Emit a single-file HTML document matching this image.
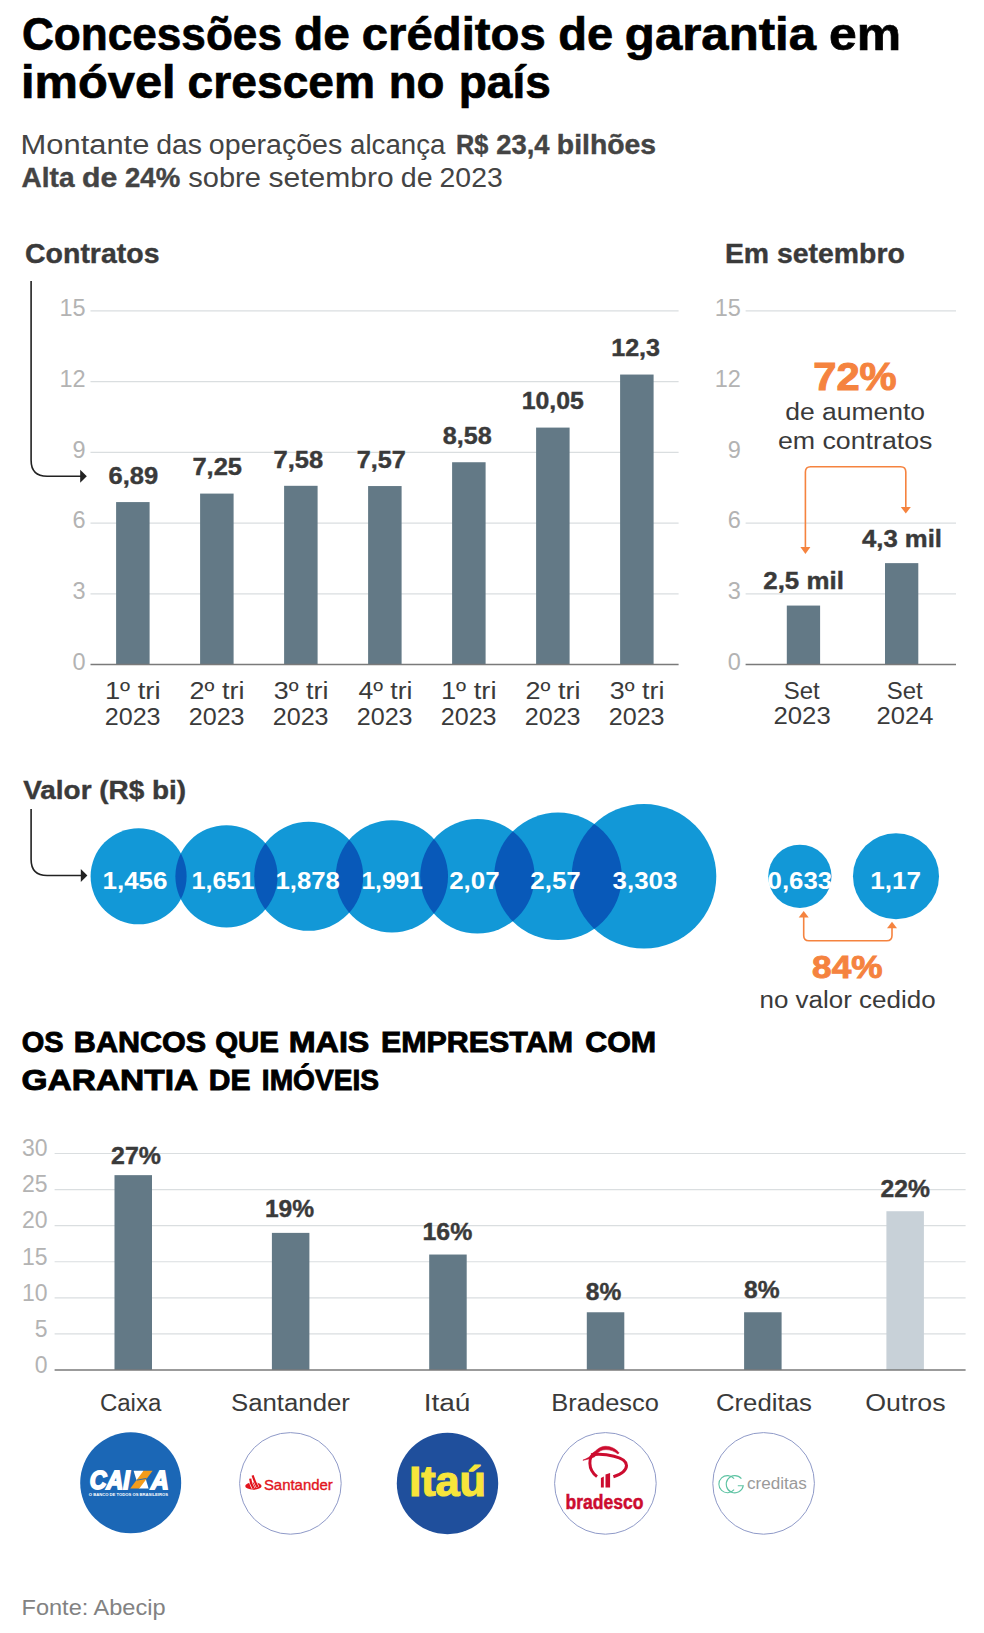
<!DOCTYPE html>
<html><head><meta charset="utf-8"><style>
html,body{margin:0;padding:0;background:#fff;}
svg{display:block;font-family:"Liberation Sans", sans-serif;}
</style></head><body>
<svg width="984" height="1633" viewBox="0 0 984 1633">
<rect width="984" height="1633" fill="#fff"/>
<defs><clipPath id="cp0"><circle cx="138.6" cy="876.3" r="48.00"/></clipPath><clipPath id="cp1"><circle cx="226.5" cy="876.3" r="51.11"/></clipPath><clipPath id="cp2"><circle cx="308.7" cy="876.3" r="54.51"/></clipPath><clipPath id="cp3"><circle cx="391.9" cy="876.3" r="56.13"/></clipPath><clipPath id="cp4"><circle cx="477.4" cy="876.3" r="57.23"/></clipPath><clipPath id="cp5"><circle cx="558" cy="876.3" r="63.77"/></clipPath><clipPath id="cp6"><circle cx="644" cy="876.3" r="72.30"/></clipPath></defs>
<text x="21.88" y="49.80" font-size="46.5" fill="#000" font-weight="bold" text-anchor="start" textLength="260.11" lengthAdjust="spacingAndGlyphs" stroke="#000" stroke-width="0.7">Concessões</text>
<text x="294.04" y="49.80" font-size="46.5" fill="#000" font-weight="bold" text-anchor="start" textLength="55.85" lengthAdjust="spacingAndGlyphs" stroke="#000" stroke-width="0.7">de</text>
<text x="361.76" y="49.80" font-size="46.5" fill="#000" font-weight="bold" text-anchor="start" textLength="183.99" lengthAdjust="spacingAndGlyphs" stroke="#000" stroke-width="0.7">créditos</text>
<text x="558.17" y="49.80" font-size="46.5" fill="#000" font-weight="bold" text-anchor="start" textLength="54.89" lengthAdjust="spacingAndGlyphs" stroke="#000" stroke-width="0.7">de</text>
<text x="624.88" y="49.80" font-size="46.5" fill="#000" font-weight="bold" text-anchor="start" textLength="191.19" lengthAdjust="spacingAndGlyphs" stroke="#000" stroke-width="0.7">garantia</text>
<text x="829.05" y="49.80" font-size="46.5" fill="#000" font-weight="bold" text-anchor="start" textLength="72.10" lengthAdjust="spacingAndGlyphs" stroke="#000" stroke-width="0.7">em</text>
<text x="21.03" y="97.60" font-size="46.5" fill="#000" font-weight="bold" text-anchor="start" textLength="154.63" lengthAdjust="spacingAndGlyphs" stroke="#000" stroke-width="0.7">imóvel</text>
<text x="187.60" y="97.60" font-size="46.5" fill="#000" font-weight="bold" text-anchor="start" textLength="187.48" lengthAdjust="spacingAndGlyphs" stroke="#000" stroke-width="0.7">crescem</text>
<text x="388.68" y="97.60" font-size="46.5" fill="#000" font-weight="bold" text-anchor="start" textLength="55.74" lengthAdjust="spacingAndGlyphs" stroke="#000" stroke-width="0.7">no</text>
<text x="458.76" y="97.60" font-size="46.5" fill="#000" font-weight="bold" text-anchor="start" textLength="91.97" lengthAdjust="spacingAndGlyphs" stroke="#000" stroke-width="0.7">país</text>
<text x="20.63" y="153.50" font-size="27" fill="#444" font-weight="normal" text-anchor="start" textLength="128.69" lengthAdjust="spacingAndGlyphs">Montante</text>
<text x="156.16" y="153.50" font-size="27" fill="#444" font-weight="normal" text-anchor="start" textLength="45.90" lengthAdjust="spacingAndGlyphs">das</text>
<text x="208.86" y="153.50" font-size="27" fill="#444" font-weight="normal" text-anchor="start" textLength="133.45" lengthAdjust="spacingAndGlyphs">operações</text>
<text x="349.99" y="153.50" font-size="27" fill="#444" font-weight="normal" text-anchor="start" textLength="95.46" lengthAdjust="spacingAndGlyphs">alcança</text>
<text x="455.96" y="153.50" font-size="27" fill="#444" font-weight="bold" text-anchor="start" textLength="32.28" lengthAdjust="spacingAndGlyphs" stroke="#444" stroke-width="0.4">R$</text>
<text x="496.24" y="153.50" font-size="27" fill="#444" font-weight="bold" text-anchor="start" textLength="53.23" lengthAdjust="spacingAndGlyphs" stroke="#444" stroke-width="0.4">23,4</text>
<text x="556.86" y="153.50" font-size="27" fill="#444" font-weight="bold" text-anchor="start" textLength="99.19" lengthAdjust="spacingAndGlyphs" stroke="#444" stroke-width="0.4">bilhões</text>
<text x="21.60" y="187.00" font-size="27" fill="#444" font-weight="bold" text-anchor="start" textLength="52.90" lengthAdjust="spacingAndGlyphs" stroke="#444" stroke-width="0.4">Alta</text>
<text x="82.09" y="187.00" font-size="27" fill="#444" font-weight="bold" text-anchor="start" textLength="35.28" lengthAdjust="spacingAndGlyphs" stroke="#444" stroke-width="0.4">de</text>
<text x="125.04" y="187.00" font-size="27" fill="#444" font-weight="bold" text-anchor="start" textLength="55.09" lengthAdjust="spacingAndGlyphs" stroke="#444" stroke-width="0.4">24%</text>
<text x="188.23" y="187.00" font-size="27" fill="#444" font-weight="normal" text-anchor="start" textLength="72.68" lengthAdjust="spacingAndGlyphs">sobre</text>
<text x="268.50" y="187.00" font-size="27" fill="#444" font-weight="normal" text-anchor="start" textLength="125.21" lengthAdjust="spacingAndGlyphs">setembro</text>
<text x="400.85" y="187.00" font-size="27" fill="#444" font-weight="normal" text-anchor="start" textLength="31.86" lengthAdjust="spacingAndGlyphs">de</text>
<text x="439.58" y="187.00" font-size="27" fill="#444" font-weight="normal" text-anchor="start" textLength="63.15" lengthAdjust="spacingAndGlyphs">2023</text>
<text x="25.06" y="262.70" font-size="28" fill="#3a3a3a" font-weight="bold" text-anchor="start" textLength="134.44" lengthAdjust="spacingAndGlyphs" stroke="#3a3a3a" stroke-width="0.4">Contratos</text>
<text x="724.95" y="262.70" font-size="28" fill="#3a3a3a" font-weight="bold" text-anchor="start" textLength="179.85" lengthAdjust="spacingAndGlyphs" stroke="#3a3a3a" stroke-width="0.4">Em setembro</text>
<line x1="90.50" y1="310.90" x2="678.60" y2="310.90" stroke="#dadee0" stroke-width="1.2"/>
<text x="85.60" y="316.10" font-size="23.5" fill="#b3b3b3" font-weight="normal" text-anchor="end">15</text>
<line x1="90.50" y1="381.62" x2="678.60" y2="381.62" stroke="#dadee0" stroke-width="1.2"/>
<text x="85.60" y="386.82" font-size="23.5" fill="#b3b3b3" font-weight="normal" text-anchor="end">12</text>
<line x1="90.50" y1="452.34" x2="678.60" y2="452.34" stroke="#dadee0" stroke-width="1.2"/>
<text x="85.60" y="457.54" font-size="23.5" fill="#b3b3b3" font-weight="normal" text-anchor="end">9</text>
<line x1="90.50" y1="523.06" x2="678.60" y2="523.06" stroke="#dadee0" stroke-width="1.2"/>
<text x="85.60" y="528.26" font-size="23.5" fill="#b3b3b3" font-weight="normal" text-anchor="end">6</text>
<line x1="90.50" y1="593.78" x2="678.60" y2="593.78" stroke="#dadee0" stroke-width="1.2"/>
<text x="85.60" y="598.98" font-size="23.5" fill="#b3b3b3" font-weight="normal" text-anchor="end">3</text>
<text x="85.60" y="669.70" font-size="23.5" fill="#b3b3b3" font-weight="normal" text-anchor="end">0</text>
<rect x="116.10" y="502.08" width="33.50" height="162.42" fill="#637986"/>
<text x="108.51" y="483.88" font-size="23.3" fill="#3a3a3a" font-weight="bold" text-anchor="start" textLength="49.62" lengthAdjust="spacingAndGlyphs" stroke="#3a3a3a" stroke-width="0.4">6,89</text>
<text x="104.90" y="699.40" font-size="23.5" fill="#3a3a3a" font-weight="normal" text-anchor="start" textLength="55.59" lengthAdjust="spacingAndGlyphs">1º tri</text>
<text x="104.74" y="724.50" font-size="23.5" fill="#3a3a3a" font-weight="normal" text-anchor="start" textLength="55.85" lengthAdjust="spacingAndGlyphs">2023</text>
<rect x="200.10" y="493.59" width="33.50" height="170.91" fill="#637986"/>
<text x="192.48" y="475.39" font-size="23.3" fill="#3a3a3a" font-weight="bold" text-anchor="start" textLength="49.49" lengthAdjust="spacingAndGlyphs" stroke="#3a3a3a" stroke-width="0.4">7,25</text>
<text x="189.60" y="699.40" font-size="23.5" fill="#3a3a3a" font-weight="normal" text-anchor="start" textLength="54.87" lengthAdjust="spacingAndGlyphs">2º tri</text>
<text x="188.74" y="724.50" font-size="23.5" fill="#3a3a3a" font-weight="normal" text-anchor="start" textLength="55.85" lengthAdjust="spacingAndGlyphs">2023</text>
<rect x="284.10" y="485.81" width="33.50" height="178.69" fill="#637986"/>
<text x="273.58" y="467.61" font-size="23.3" fill="#3a3a3a" font-weight="bold" text-anchor="start" textLength="49.62" lengthAdjust="spacingAndGlyphs" stroke="#3a3a3a" stroke-width="0.4">7,58</text>
<text x="273.88" y="699.40" font-size="23.5" fill="#3a3a3a" font-weight="normal" text-anchor="start" textLength="54.58" lengthAdjust="spacingAndGlyphs">3º tri</text>
<text x="272.74" y="724.50" font-size="23.5" fill="#3a3a3a" font-weight="normal" text-anchor="start" textLength="55.85" lengthAdjust="spacingAndGlyphs">2023</text>
<rect x="368.10" y="486.05" width="33.50" height="178.45" fill="#637986"/>
<text x="356.79" y="467.85" font-size="23.3" fill="#3a3a3a" font-weight="bold" text-anchor="start" textLength="49.05" lengthAdjust="spacingAndGlyphs" stroke="#3a3a3a" stroke-width="0.4">7,57</text>
<text x="358.42" y="699.40" font-size="23.5" fill="#3a3a3a" font-weight="normal" text-anchor="start" textLength="54.02" lengthAdjust="spacingAndGlyphs">4º tri</text>
<text x="356.74" y="724.50" font-size="23.5" fill="#3a3a3a" font-weight="normal" text-anchor="start" textLength="55.85" lengthAdjust="spacingAndGlyphs">2023</text>
<rect x="452.10" y="462.24" width="33.50" height="202.26" fill="#637986"/>
<text x="442.85" y="444.04" font-size="23.3" fill="#3a3a3a" font-weight="bold" text-anchor="start" textLength="48.94" lengthAdjust="spacingAndGlyphs" stroke="#3a3a3a" stroke-width="0.4">8,58</text>
<text x="440.90" y="699.40" font-size="23.5" fill="#3a3a3a" font-weight="normal" text-anchor="start" textLength="55.59" lengthAdjust="spacingAndGlyphs">1º tri</text>
<text x="440.74" y="724.50" font-size="23.5" fill="#3a3a3a" font-weight="normal" text-anchor="start" textLength="55.85" lengthAdjust="spacingAndGlyphs">2023</text>
<rect x="536.10" y="427.59" width="33.50" height="236.91" fill="#637986"/>
<text x="521.71" y="409.39" font-size="23.3" fill="#3a3a3a" font-weight="bold" text-anchor="start" textLength="62.07" lengthAdjust="spacingAndGlyphs" stroke="#3a3a3a" stroke-width="0.4">10,05</text>
<text x="525.60" y="699.40" font-size="23.5" fill="#3a3a3a" font-weight="normal" text-anchor="start" textLength="54.87" lengthAdjust="spacingAndGlyphs">2º tri</text>
<text x="524.74" y="724.50" font-size="23.5" fill="#3a3a3a" font-weight="normal" text-anchor="start" textLength="55.85" lengthAdjust="spacingAndGlyphs">2023</text>
<rect x="620.10" y="374.55" width="33.50" height="289.95" fill="#637986"/>
<text x="611.20" y="356.35" font-size="23.3" fill="#3a3a3a" font-weight="bold" text-anchor="start" textLength="48.82" lengthAdjust="spacingAndGlyphs" stroke="#3a3a3a" stroke-width="0.4">12,3</text>
<text x="609.88" y="699.40" font-size="23.5" fill="#3a3a3a" font-weight="normal" text-anchor="start" textLength="54.58" lengthAdjust="spacingAndGlyphs">3º tri</text>
<text x="608.74" y="724.50" font-size="23.5" fill="#3a3a3a" font-weight="normal" text-anchor="start" textLength="55.85" lengthAdjust="spacingAndGlyphs">2023</text>
<line x1="90.50" y1="664.50" x2="678.60" y2="664.50" stroke="#7a7a7a" stroke-width="1.6"/>
<line x1="745.60" y1="310.90" x2="956.00" y2="310.90" stroke="#dadee0" stroke-width="1.2"/>
<text x="740.80" y="316.10" font-size="23.5" fill="#b3b3b3" font-weight="normal" text-anchor="end">15</text>
<text x="740.80" y="386.82" font-size="23.5" fill="#b3b3b3" font-weight="normal" text-anchor="end">12</text>
<text x="740.80" y="457.54" font-size="23.5" fill="#b3b3b3" font-weight="normal" text-anchor="end">9</text>
<line x1="745.60" y1="523.06" x2="956.00" y2="523.06" stroke="#dadee0" stroke-width="1.2"/>
<text x="740.80" y="528.26" font-size="23.5" fill="#b3b3b3" font-weight="normal" text-anchor="end">6</text>
<line x1="745.60" y1="593.78" x2="956.00" y2="593.78" stroke="#dadee0" stroke-width="1.2"/>
<text x="740.80" y="598.98" font-size="23.5" fill="#b3b3b3" font-weight="normal" text-anchor="end">3</text>
<text x="740.80" y="669.70" font-size="23.5" fill="#b3b3b3" font-weight="normal" text-anchor="end">0</text>
<rect x="786.80" y="605.57" width="33.30" height="58.93" fill="#637986"/>
<text x="763.29" y="589.27" font-size="23.3" fill="#3a3a3a" font-weight="bold" text-anchor="start" textLength="80.56" lengthAdjust="spacingAndGlyphs" stroke="#3a3a3a" stroke-width="0.4">2,5 mil</text>
<text x="783.77" y="699.30" font-size="23.5" fill="#3a3a3a" font-weight="normal" text-anchor="start" textLength="35.92" lengthAdjust="spacingAndGlyphs">Set</text>
<text x="773.41" y="724.30" font-size="23.5" fill="#3a3a3a" font-weight="normal" text-anchor="start" textLength="57.31" lengthAdjust="spacingAndGlyphs">2023</text>
<rect x="885.00" y="563.13" width="33.30" height="101.37" fill="#637986"/>
<text x="862.01" y="546.83" font-size="23.3" fill="#3a3a3a" font-weight="bold" text-anchor="start" textLength="80.03" lengthAdjust="spacingAndGlyphs" stroke="#3a3a3a" stroke-width="0.4">4,3 mil</text>
<text x="886.87" y="699.30" font-size="23.5" fill="#3a3a3a" font-weight="normal" text-anchor="start" textLength="35.92" lengthAdjust="spacingAndGlyphs">Set</text>
<text x="876.52" y="724.30" font-size="23.5" fill="#3a3a3a" font-weight="normal" text-anchor="start" textLength="56.91" lengthAdjust="spacingAndGlyphs">2024</text>
<line x1="745.60" y1="664.50" x2="956.00" y2="664.50" stroke="#7a7a7a" stroke-width="1.6"/>
<text x="813.23" y="390.00" font-size="38.5" fill="#f5833f" font-weight="bold" text-anchor="start" textLength="83.47" lengthAdjust="spacingAndGlyphs" stroke="#f5833f" stroke-width="1">72%</text>
<text x="785.24" y="420.00" font-size="23.5" fill="#3a3a3a" font-weight="normal" text-anchor="start" textLength="139.87" lengthAdjust="spacingAndGlyphs">de aumento</text>
<text x="777.93" y="449.30" font-size="23.5" fill="#3a3a3a" font-weight="normal" text-anchor="start" textLength="154.52" lengthAdjust="spacingAndGlyphs">em contratos</text>
<path d="M805.4,549 V472 Q805.4,466.8 810.6,466.8 H900.6 Q905.8,466.8 905.8,472 V508" fill="none" stroke="#f5833f" stroke-width="1.6"/>
<path d="M800.4,547 L810.4,547 L805.4,554 Z" fill="#f5833f"/>
<path d="M900.8,507 L910.8,507 L905.8,513.6 Z" fill="#f5833f"/>
<path d="M31.1,281 V460.2 Q31.1,476.2 47.1,476.2 H81" fill="none" stroke="#222" stroke-width="1.6"/>
<path d="M80.2,469.7 L86.8,476.2 L80.2,482.7 Z" fill="#222"/>
<text x="23.26" y="799.00" font-size="26" fill="#3a3a3a" font-weight="bold" text-anchor="start" textLength="162.92" lengthAdjust="spacingAndGlyphs" stroke="#3a3a3a" stroke-width="0.4">Valor (R$ bi)</text>
<path d="M31.1,808.9 V859.5 Q31.1,875.5 47.1,875.5 H81" fill="none" stroke="#222" stroke-width="1.6"/>
<path d="M80.8,869 L87.4,875.5 L80.8,882 Z" fill="#222"/>
<circle cx="138.6" cy="876.3" r="48.00" fill="#1298d7"/>
<circle cx="226.5" cy="876.3" r="51.11" fill="#1298d7"/>
<circle cx="308.7" cy="876.3" r="54.51" fill="#1298d7"/>
<circle cx="391.9" cy="876.3" r="56.13" fill="#1298d7"/>
<circle cx="477.4" cy="876.3" r="57.23" fill="#1298d7"/>
<circle cx="558" cy="876.3" r="63.77" fill="#1298d7"/>
<circle cx="644" cy="876.3" r="72.30" fill="#1298d7"/>
<circle cx="226.5" cy="876.3" r="51.11" fill="#0859b9" clip-path="url(#cp0)"/>
<circle cx="308.7" cy="876.3" r="54.51" fill="#0859b9" clip-path="url(#cp1)"/>
<circle cx="391.9" cy="876.3" r="56.13" fill="#0859b9" clip-path="url(#cp2)"/>
<circle cx="477.4" cy="876.3" r="57.23" fill="#0859b9" clip-path="url(#cp3)"/>
<circle cx="558" cy="876.3" r="63.77" fill="#0859b9" clip-path="url(#cp4)"/>
<circle cx="644" cy="876.3" r="72.30" fill="#0859b9" clip-path="url(#cp5)"/>
<text x="102.44" y="888.70" font-size="23" fill="#fff" font-weight="bold" text-anchor="start" textLength="65.14" lengthAdjust="spacingAndGlyphs">1,456</text>
<text x="191.49" y="888.70" font-size="23" fill="#fff" font-weight="bold" text-anchor="start" textLength="63.00" lengthAdjust="spacingAndGlyphs">1,651</text>
<text x="275.46" y="888.70" font-size="23" fill="#fff" font-weight="bold" text-anchor="start" textLength="64.38" lengthAdjust="spacingAndGlyphs">1,878</text>
<text x="361.42" y="888.70" font-size="23" fill="#fff" font-weight="bold" text-anchor="start" textLength="61.55" lengthAdjust="spacingAndGlyphs">1,991</text>
<text x="449.19" y="888.70" font-size="23" fill="#fff" font-weight="bold" text-anchor="start" textLength="50.38" lengthAdjust="spacingAndGlyphs">2,07</text>
<text x="530.39" y="888.70" font-size="23" fill="#fff" font-weight="bold" text-anchor="start" textLength="50.38" lengthAdjust="spacingAndGlyphs">2,57</text>
<text x="612.55" y="888.70" font-size="23" fill="#fff" font-weight="bold" text-anchor="start" textLength="64.82" lengthAdjust="spacingAndGlyphs">3,303</text>
<circle cx="799.9" cy="876.3" r="31.65" fill="#1298d7"/>
<text x="767.57" y="888.70" font-size="23" fill="#fff" font-weight="bold" text-anchor="start" textLength="64.60" lengthAdjust="spacingAndGlyphs">0,633</text>
<circle cx="896" cy="876.3" r="43.03" fill="#1298d7"/>
<text x="870.34" y="888.70" font-size="23" fill="#fff" font-weight="bold" text-anchor="start" textLength="50.74" lengthAdjust="spacingAndGlyphs">1,17</text>
<path d="M803.7,915 V935.6 Q803.7,940.8 808.9,940.8 H886.8 Q892,940.8 892,935.6 V925" fill="none" stroke="#f5833f" stroke-width="1.6"/>
<path d="M798.7,917.5 L808.7,917.5 L803.7,911 Z" fill="#f5833f"/>
<path d="M887,928.3 L897,928.3 L892,921.8 Z" fill="#f5833f"/>
<text x="812.09" y="977.70" font-size="31" fill="#f5833f" font-weight="bold" text-anchor="start" textLength="70.39" lengthAdjust="spacingAndGlyphs" stroke="#f5833f" stroke-width="0.9">84%</text>
<text x="759.51" y="1007.80" font-size="23.5" fill="#3a3a3a" font-weight="normal" text-anchor="start" textLength="176.09" lengthAdjust="spacingAndGlyphs">no valor cedido</text>
<text x="21.69" y="1051.90" font-size="29.5" fill="#000" font-weight="bold" text-anchor="start" textLength="41.87" lengthAdjust="spacingAndGlyphs" stroke="#000" stroke-width="0.9">OS</text>
<text x="73.86" y="1051.90" font-size="29.5" fill="#000" font-weight="bold" text-anchor="start" textLength="132.36" lengthAdjust="spacingAndGlyphs" stroke="#000" stroke-width="0.9">BANCOS</text>
<text x="215.17" y="1051.90" font-size="29.5" fill="#000" font-weight="bold" text-anchor="start" textLength="63.77" lengthAdjust="spacingAndGlyphs" stroke="#000" stroke-width="0.9">QUE</text>
<text x="288.75" y="1051.90" font-size="29.5" fill="#000" font-weight="bold" text-anchor="start" textLength="80.63" lengthAdjust="spacingAndGlyphs" stroke="#000" stroke-width="0.9">MAIS</text>
<text x="380.97" y="1051.90" font-size="29.5" fill="#000" font-weight="bold" text-anchor="start" textLength="192.01" lengthAdjust="spacingAndGlyphs" stroke="#000" stroke-width="0.9">EMPRESTAM</text>
<text x="585.23" y="1051.90" font-size="29.5" fill="#000" font-weight="bold" text-anchor="start" textLength="70.99" lengthAdjust="spacingAndGlyphs" stroke="#000" stroke-width="0.9">COM</text>
<text x="21.51" y="1090.00" font-size="29.5" fill="#000" font-weight="bold" text-anchor="start" textLength="176.76" lengthAdjust="spacingAndGlyphs" stroke="#000" stroke-width="0.9">GARANTIA</text>
<text x="208.70" y="1090.00" font-size="29.5" fill="#000" font-weight="bold" text-anchor="start" textLength="41.73" lengthAdjust="spacingAndGlyphs" stroke="#000" stroke-width="0.9">DE</text>
<text x="261.82" y="1090.00" font-size="29.5" fill="#000" font-weight="bold" text-anchor="start" textLength="117.29" lengthAdjust="spacingAndGlyphs" stroke="#000" stroke-width="0.9">IMÓVEIS</text>
<line x1="54.60" y1="1153.50" x2="965.60" y2="1153.50" stroke="#dadee0" stroke-width="1.2"/>
<text x="47.60" y="1156.30" font-size="23" fill="#b3b3b3" font-weight="normal" text-anchor="end">30</text>
<line x1="54.60" y1="1189.58" x2="965.60" y2="1189.58" stroke="#dadee0" stroke-width="1.2"/>
<text x="47.60" y="1192.38" font-size="23" fill="#b3b3b3" font-weight="normal" text-anchor="end">25</text>
<line x1="54.60" y1="1225.67" x2="965.60" y2="1225.67" stroke="#dadee0" stroke-width="1.2"/>
<text x="47.60" y="1228.47" font-size="23" fill="#b3b3b3" font-weight="normal" text-anchor="end">20</text>
<line x1="54.60" y1="1261.75" x2="965.60" y2="1261.75" stroke="#dadee0" stroke-width="1.2"/>
<text x="47.60" y="1264.55" font-size="23" fill="#b3b3b3" font-weight="normal" text-anchor="end">15</text>
<line x1="54.60" y1="1297.83" x2="965.60" y2="1297.83" stroke="#dadee0" stroke-width="1.2"/>
<text x="47.60" y="1300.63" font-size="23" fill="#b3b3b3" font-weight="normal" text-anchor="end">10</text>
<line x1="54.60" y1="1333.92" x2="965.60" y2="1333.92" stroke="#dadee0" stroke-width="1.2"/>
<text x="47.60" y="1336.72" font-size="23" fill="#b3b3b3" font-weight="normal" text-anchor="end">5</text>
<text x="47.60" y="1372.80" font-size="23" fill="#b3b3b3" font-weight="normal" text-anchor="end">0</text>
<rect x="114.50" y="1175.15" width="37.50" height="194.85" fill="#637986"/>
<text x="111.13" y="1163.50" font-size="24.5" fill="#3a3a3a" font-weight="bold" text-anchor="start" textLength="49.93" lengthAdjust="spacingAndGlyphs" stroke="#3a3a3a" stroke-width="0.4">27%</text>
<text x="99.90" y="1410.60" font-size="23" fill="#3a3a3a" font-weight="normal" text-anchor="start" textLength="61.44" lengthAdjust="spacingAndGlyphs">Caixa</text>
<rect x="271.90" y="1232.88" width="37.50" height="137.12" fill="#637986"/>
<text x="264.92" y="1217.20" font-size="24.5" fill="#3a3a3a" font-weight="bold" text-anchor="start" textLength="49.23" lengthAdjust="spacingAndGlyphs" stroke="#3a3a3a" stroke-width="0.4">19%</text>
<text x="231.04" y="1410.60" font-size="23" fill="#3a3a3a" font-weight="normal" text-anchor="start" textLength="118.87" lengthAdjust="spacingAndGlyphs">Santander</text>
<rect x="429.20" y="1254.53" width="37.50" height="115.47" fill="#637986"/>
<text x="422.51" y="1239.70" font-size="24.5" fill="#3a3a3a" font-weight="bold" text-anchor="start" textLength="49.75" lengthAdjust="spacingAndGlyphs" stroke="#3a3a3a" stroke-width="0.4">16%</text>
<text x="423.68" y="1410.60" font-size="23" fill="#3a3a3a" font-weight="normal" text-anchor="start" textLength="46.79" lengthAdjust="spacingAndGlyphs">Itaú</text>
<rect x="586.80" y="1312.27" width="37.50" height="57.73" fill="#637986"/>
<text x="585.76" y="1299.70" font-size="24.5" fill="#3a3a3a" font-weight="bold" text-anchor="start" textLength="35.46" lengthAdjust="spacingAndGlyphs" stroke="#3a3a3a" stroke-width="0.4">8%</text>
<text x="551.36" y="1410.60" font-size="23" fill="#3a3a3a" font-weight="normal" text-anchor="start" textLength="107.55" lengthAdjust="spacingAndGlyphs">Bradesco</text>
<rect x="744.10" y="1312.27" width="37.50" height="57.73" fill="#637986"/>
<text x="744.06" y="1298.00" font-size="24.5" fill="#3a3a3a" font-weight="bold" text-anchor="start" textLength="35.56" lengthAdjust="spacingAndGlyphs" stroke="#3a3a3a" stroke-width="0.4">8%</text>
<text x="715.91" y="1410.60" font-size="23" fill="#3a3a3a" font-weight="normal" text-anchor="start" textLength="95.96" lengthAdjust="spacingAndGlyphs">Creditas</text>
<rect x="886.40" y="1211.23" width="37.50" height="158.77" fill="#c8d1d8"/>
<text x="880.64" y="1197.20" font-size="24.5" fill="#3a3a3a" font-weight="bold" text-anchor="start" textLength="49.42" lengthAdjust="spacingAndGlyphs" stroke="#3a3a3a" stroke-width="0.4">22%</text>
<text x="865.30" y="1410.60" font-size="23" fill="#3a3a3a" font-weight="normal" text-anchor="start" textLength="80.27" lengthAdjust="spacingAndGlyphs">Outros</text>
<line x1="54.60" y1="1370.00" x2="965.60" y2="1370.00" stroke="#7a7a7a" stroke-width="1.6"/>
<circle cx="130.7" cy="1482.8" r="50.5" fill="#1b67b6"/>
<text x="89.74" y="1488.60" font-size="25" fill="#fff" font-weight="bold" text-anchor="start" textLength="39.95" lengthAdjust="spacingAndGlyphs" stroke="#fff" stroke-width="1.8" font-style="italic">CAI</text>
<text x="151.09" y="1488.60" font-size="25" fill="#fff" font-weight="bold" text-anchor="start" textLength="17.79" lengthAdjust="spacingAndGlyphs" stroke="#fff" stroke-width="1.8" font-style="italic">A</text>
<path d="M133.6,1470.8 L143.3,1470.8 L148.6,1488.6 L139,1488.6 Z" fill="#fff"/>
<path d="M143.5,1470.8 L152.6,1470.8 L139.3,1488.6 L130.2,1488.6 Z" fill="#f39c1a"/>
<path d="M136.5,1480.2 L146.5,1478.4" stroke="#1b67b6" stroke-width="0.9" fill="none"/>
<text x="88.83" y="1495.60" font-size="4.4" fill="#fff" font-weight="bold" text-anchor="start" textLength="79.13" lengthAdjust="spacingAndGlyphs">O BANCO DE TODOS OS BRASILEIROS</text>
<circle cx="290.4" cy="1483.4" r="50.8" fill="#fff" stroke="#8f9ac8" stroke-width="1"/>
<text x="263.90" y="1489.50" font-size="15" fill="#e2141d" font-weight="normal" text-anchor="start" textLength="68.92" lengthAdjust="spacingAndGlyphs" stroke="#e2141d" stroke-width="0.35">Santander</text>
<ellipse cx="253.4" cy="1486" rx="8.2" ry="3.7" fill="#e2141d"/>
<path d="M250.2,1478.6 Q250.4,1483 253.6,1488.6 M252.6,1475.4 Q254,1480 257.6,1487.2" stroke="#fff" stroke-width="3.4" fill="none"/>
<path d="M250.2,1478.6 Q250.4,1483 253.6,1488.6 M252.6,1475.4 Q254,1480 257.6,1487.2" stroke="#e2141d" stroke-width="2.2" fill="none"/>
<circle cx="447.5" cy="1483.5" r="50.7" fill="#1f4f9c"/>
<text x="409.19" y="1496.30" font-size="42" fill="#f7e53b" font-weight="bold" text-anchor="start" textLength="76.84" lengthAdjust="spacingAndGlyphs" stroke="#f7e53b" stroke-width="1.2">Itaú</text>
<circle cx="605.4" cy="1483.4" r="50.8" fill="#fff" stroke="#8f9ac8" stroke-width="1"/>
<path d="M582.9,1460.2 C586,1458.8 589,1457.5 592,1455 C596,1450 600,1446.3 605.5,1446.3 C611.5,1446.3 616.5,1449.5 619,1452.8 L618,1454 C614.5,1451 610,1449.6 606,1449.6 C600,1449.6 597,1453 595,1456.5 C593,1457.5 588,1459.5 582.9,1460.2 Z" fill="#cc0c2f" stroke="#cc0c2f" stroke-width="0.6"/>
<path d="M595.5,1452.5 C588,1456 587.5,1469.5 597,1476.6" fill="none" stroke="#cc0c2f" stroke-width="3"/>
<path d="M591,1454.8 C605,1453.2 626.5,1456.5 626.5,1465.5 C626.5,1471.5 619,1475 613.4,1476.8" fill="none" stroke="#cc0c2f" stroke-width="3"/>
<path d="M600.9,1478 L603.8,1476.4 L603.8,1487.6 L600.9,1487.6 Z M605.5,1474.6 L610.1,1473 L610.1,1487.6 L605.5,1487.6 Z" fill="#cc0c2f"/>
<text x="565.51" y="1508.90" font-size="20" fill="#cc0c2f" font-weight="bold" text-anchor="start" textLength="77.88" lengthAdjust="spacingAndGlyphs" stroke="#cc0c2f" stroke-width="0.5">bradesco</text>
<circle cx="763.6" cy="1483.4" r="50.8" fill="#fff" stroke="#8f9ac8" stroke-width="1"/>
<path d="M734.1,1478.7 A8.6,8.6 0 1 0 734.1,1489.7" fill="none" stroke="#5ec3a3" stroke-width="1.1"/>
<path d="M741.4,1478.7 A8.6,8.6 0 1 0 743.3,1485.7 L737.8,1485.7" fill="none" stroke="#5ec3a3" stroke-width="1.1"/>
<text x="747.02" y="1488.50" font-size="16" fill="#9a9a9a" font-weight="normal" text-anchor="start" textLength="59.81" lengthAdjust="spacingAndGlyphs">creditas</text>
<text x="21.52" y="1615.30" font-size="22.8" fill="#828282" font-weight="normal" text-anchor="start" textLength="144.04" lengthAdjust="spacingAndGlyphs">Fonte: Abecip</text>
</svg>
</body></html>
